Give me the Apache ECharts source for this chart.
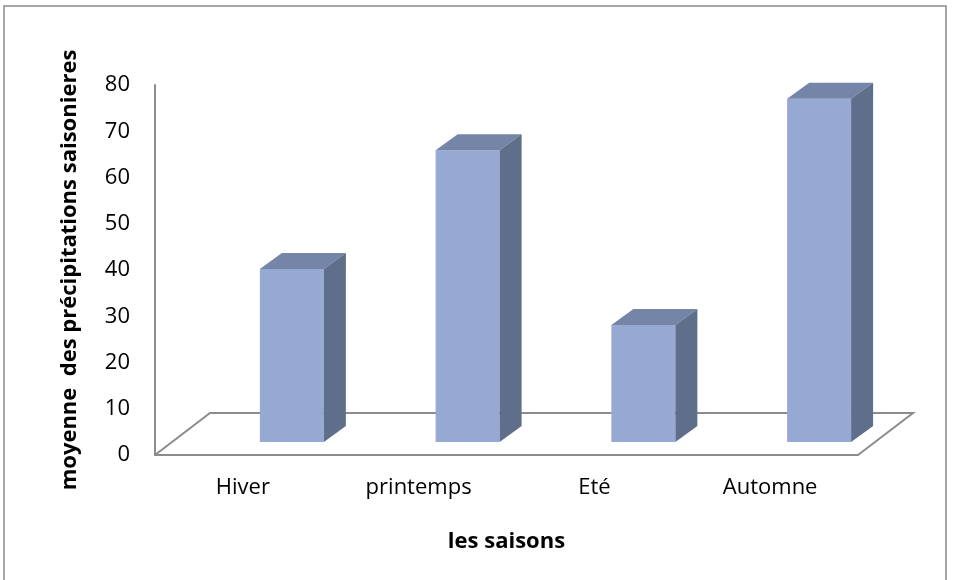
<!DOCTYPE html>
<html>
<head>
<meta charset="utf-8">
<script src="https://cdn.jsdelivr.net/npm/echarts@6/dist/echarts.min.js"></script>
<style>html,body{margin:0;padding:0;background:#fff;}#c{width:954px;height:580px;}</style>
</head>
<body>
<div id="c"></div>
<script>
const categories = ['Hiver', 'printemps', 'Eté', 'Automne'];
const values = [37.4, 63.1, 25.3, 74.2];
const yMin = 0, yMax = 80, yStep = 10;
const yTitle = 'moyenne  des précipitations saisonieres';
const xTitle = 'les saisons';

const FONT = '"Open Sans", sans-serif';
const C_FRONT = '#95A9D2', C_TOP = '#7585A7', C_SIDE = '#5F6E8B', C_LINE = '#8C8C8C';
const FLOOR_DX = 55, FLOOR_DY = -42;
const BAR_SHIFT_X = 17, BAR_SHIFT_Y = -13, BAR_W_FRAC = 0.364, BAR_DX = 22, BAR_DY = -16;

const chart = echarts.init(document.getElementById('c'), null, {renderer: 'canvas'});
chart.setOption({
  animation: false,
  backgroundColor: '#fff',
  graphic: [{
    type: 'rect', shape: {x: 4, y: 6, width: 942, height: 590},
    style: {fill: 'none', stroke: '#8A8A8A', lineWidth: 1.5}, silent: true, z: -10
  }],
  grid: {left: 155, right: 96, top: 85, bottom: 125},
  xAxis: {
    type: 'category', data: categories, boundaryGap: true,
    axisLine: {show: true, lineStyle: {color: C_LINE, width: 2}},
    axisTick: {show: false},
    axisLabel: {margin: 22, fontSize: 22, color: '#000', fontFamily: FONT},
    name: xTitle, nameLocation: 'middle', nameGap: 76,
    nameTextStyle: {fontSize: 22, fontWeight: 'bold', color: '#000', fontFamily: FONT}
  },
  yAxis: {
    type: 'value', min: yMin, max: yMax, interval: yStep,
    axisLine: {show: true, lineStyle: {color: C_LINE, width: 2}},
    axisTick: {show: false}, splitLine: {show: false},
    axisLabel: {margin: 25, fontSize: 22, color: '#000', fontFamily: FONT},
    name: yTitle, nameLocation: 'middle', nameGap: 74,
    nameTextStyle: {fontSize: 22, fontWeight: 'bold', color: '#000', fontFamily: FONT}
  },
  series: [
    {
      type: 'custom', z: 1, silent: true,
      data: [0],
      renderItem: function (params, api) {
        const cs = params.coordSys;
        const x0 = cs.x, x1 = cs.x + cs.width, y = cs.y + cs.height;
        return {
          type: 'polyline',
          shape: {points: [[x0, y], [x0 + FLOOR_DX, y + FLOOR_DY], [x1 + FLOOR_DX, y + FLOOR_DY], [x1, y]]},
          style: {stroke: C_LINE, lineWidth: 2, fill: 'none'}
        };
      }
    },
    {
      type: 'custom', z: 2, silent: true,
      data: values.map((v, i) => [i, v]),
      encode: {x: 0, y: 1},
      renderItem: function (params, api) {
        const i = api.value(0), v = api.value(1);
        const top = api.coord([i, v]);
        const base = api.coord([i, 0]);
        const band = api.size([1, 0])[0];
        const w = band * BAR_W_FRAC;
        const cx = base[0] + BAR_SHIFT_X + w / 2;
        const xl = cx - w / 2, xr = cx + w / 2;
        const yt = top[1] + BAR_SHIFT_Y, yb = base[1] + BAR_SHIFT_Y;
        return {
          type: 'group',
          children: [
            {type: 'rect', shape: {x: xl, y: yt, width: w, height: yb - yt}, style: {fill: C_FRONT}},
            {type: 'polygon', shape: {points: [[xl, yt], [xr, yt], [xr + BAR_DX, yt + BAR_DY], [xl + BAR_DX, yt + BAR_DY]]}, style: {fill: C_TOP}},
            {type: 'polygon', shape: {points: [[xr, yt], [xr + BAR_DX, yt + BAR_DY], [xr + BAR_DX, yb + BAR_DY], [xr, yb]]}, style: {fill: C_SIDE}}
          ]
        };
      }
    }
  ]
});
</script>
</body>
</html>
